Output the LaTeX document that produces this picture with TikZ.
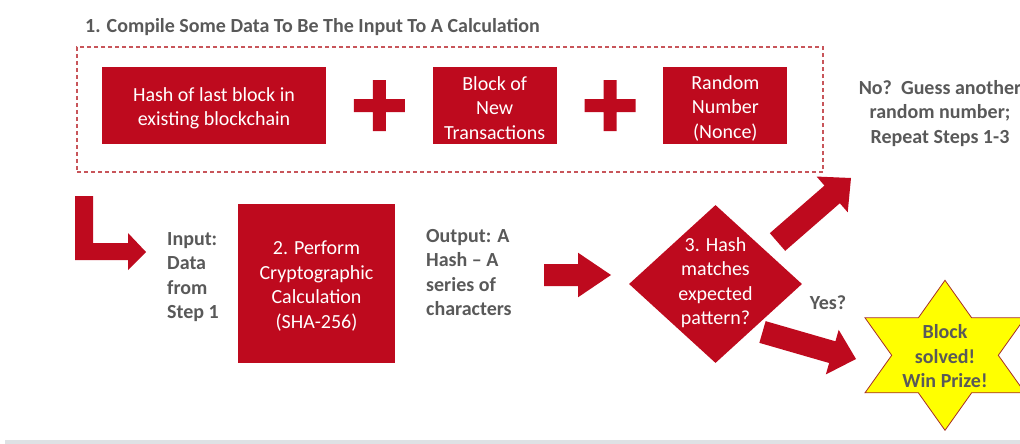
\documentclass[tikz,border=0pt]{standalone}
\usepackage{fontspec}
\setmainfont{Carlito}
\usetikzlibrary{shapes.geometric,calc}

\definecolor{blockred}{RGB}{190,10,30}
\definecolor{textgray}{RGB}{89,89,89}
\definecolor{dashred}{RGB}{200,85,90}
\definecolor{starline}{RGB}{165,45,40}
\definecolor{starfill}{RGB}{255,255,0}
\definecolor{footgray}{RGB}{222,225,228}

\newcommand\bodysize{\fontsize{20}{24.4}\selectfont}

% block arrow: start, tip, half shaft width, half head width, head length
\newcommand\fatarrow[5]{%
  \coordinate (fa-base) at ($(#2)!#5!(#1)$);
  \fill[blockred] ($(#1)!#3!90:(#2)$) -- ($(fa-base)!#3!90:(#2)$)
    -- ($(fa-base)!#4!90:(#2)$) -- (#2) -- ($(fa-base)!#4!-90:(#2)$)
    -- ($(fa-base)!#3!-90:(#2)$) -- ($(#1)!#3!-90:(#2)$) -- cycle;}

% thick plus sign around a named centre
\newcommand\plussign[1]{%
  \fill[blockred] ($(#1)+(-6.5,-25.5)$) -- ++(13,0) -- ++(0,19) -- ++(19,0)
    -- ++(0,13) -- ++(-19,0) -- ++(0,19) -- ++(-13,0) -- ++(0,-19)
    -- ++(-19,0) -- ++(0,-13) -- ++(19,0) -- cycle;}

\tikzset{
  redbox/.style={fill=blockred, inner sep=0pt},
  boxtext/.style={text=white, align=center, inner sep=0pt, font=\bodysize, yshift=-2.5pt},
  graytext/.style={text=textgray, inner sep=0pt, font=\bodysize\bfseries},
  groupbox/.style={draw=dashred, line width=1.2pt, dash pattern=on 4pt off 3pt, inner sep=0pt},
}

\begin{document}
\begin{tikzpicture}[x=1pt, y=-1pt]
\useasboundingbox (0,0) rectangle (1020,444);
\clip (0,0) rectangle (1020,444);

% step 1: the data that is gathered
\node[graytext, anchor=base west] (title) at (85,32.5)
  {1. Compile Some Data To Be The Input To A Calculation};
\node[groupbox, minimum width=746pt, minimum height=125pt] (inputs) at (450,109.5) {};

\node[redbox, minimum width=224pt, minimum height=77pt,
  label={[boxtext]center:{Hash of last block in\\existing blockchain}}] (hash) at (214,105.6) {};
\node[redbox, minimum width=124pt, minimum height=77pt,
  label={[boxtext]center:{Block of\\New\\Transactions}}] (txs) at (494.7,105.6) {};
\node[redbox, minimum width=124pt, minimum height=77pt,
  label={[boxtext]center:{Random\\Number\\(Nonce)}}] (nonce) at (725.3,105.6) {};

\coordinate (plus1) at ($(hash.east)!0.5!(txs.west)$);
\coordinate (plus2) at ($(txs.east)!0.5!(nonce.west)$);
\plussign{plus1}
\plussign{plus2}

% bent arrow leading down into step 2
\coordinate (ltip) at (146,252);
\fill[blockred] (75,196) -- (93,196) -- (93,243) -- (128,243) -- (128,233)
  -- (ltip) -- (128,270) -- (128,260) -- (75,260) -- cycle;

% step 2: hashing
\node[graytext, anchor=west, align=left] (input) at (167,277)
  {Input:\\Data\\from\\Step 1};
\node[redbox, minimum width=157pt, minimum height=159pt,
  label={[boxtext]center:{2. Perform\\Cryptographic\\Calculation\\(SHA-256)}}] (sha) at (316.5,283.5) {};
\node[graytext, anchor=west, align=left] (output) at (426,272.5)
  {Output: A\\Hash -- A\\series of\\characters};

\coordinate (out-s) at (544,275);
\coordinate (out-t) at (611,275);
\fatarrow{out-s}{out-t}{11pt}{22.3pt}{33pt}

% step 3: the check
\node[diamond, fill=blockred, inner sep=0pt, minimum width=173pt, minimum height=158pt,
  label={[boxtext, yshift=4pt]center:{3. Hash\\matches\\expected\\pattern?}}]
  (check) at (715.5,284) {};

% failure branch
\coordinate (no-s) at (777.5,242);
\coordinate (no-t) at (851,178);
\fatarrow{no-s}{no-t}{11.7pt}{23.7pt}{25pt}
\node[graytext, align=center] (retry) at (940,113.5)
  {No?\ \ Guess another\\random number;\\Repeat Steps 1-3};

% success branch
\node[graytext] (yes) at (828,302.5) {Yes?};
\coordinate (yes-s) at (762.5,332);
\coordinate (yes-t) at (856,359);
\fatarrow{yes-s}{yes-t}{11.3pt}{23.2pt}{24.7pt}

\coordinate (prize) at (945,355.3);
\begin{scope}[shift={(prize)}]
  \filldraw[fill=starfill, draw=starline, line width=0.8pt]
    (0,-75) -- (26.65,-37.5) -- (80,-37.5) -- (53.3,0) -- (80,37.5)
    -- (26.65,37.5) -- (0,75) -- (-26.65,37.5) -- (-80,37.5) -- (-53.3,0)
    -- (-80,-37.5) -- (-26.65,-37.5) -- cycle;
\end{scope}
\node[graytext, align=center] (win) at ($(prize)+(0,1)$) {Block\\solved!\\Win Prize!};

% footer strip
\fill[footgray] (5,439.5) rectangle (1020,444);
\end{tikzpicture}
\end{document}
